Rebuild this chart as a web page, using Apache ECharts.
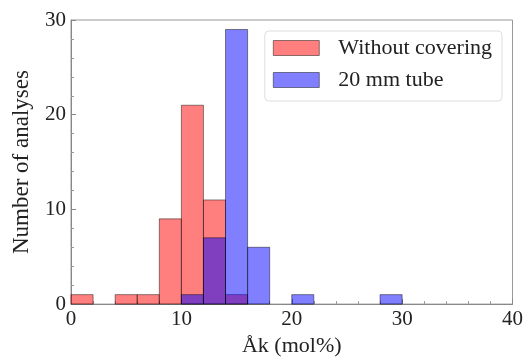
<!DOCTYPE html>
<html><head><meta charset="utf-8">
<script src="https://cdn.jsdelivr.net/npm/echarts@6/dist/echarts.min.js"></script>
<style>html,body{margin:0;padding:0;background:#fff}#c{width:526px;height:362px}</style>
</head><body><div id="c"></div>
<script>
const binWidth = 2;
const redBinStarts = [0, 4, 6, 8, 10, 12, 14];
const redCounts    = [1, 1, 1, 9, 21, 11, 1];
const blueBinStarts = [10, 12, 14, 16, 20, 28];
const blueCounts    = [1, 7, 29, 6, 1, 1];
const xTicks = [0, 10, 20, 30, 40];
const yTicks = [0, 10, 20, 30];
const seriesNames = ['Without covering', '20 mm tube'];

const FONT = 'Liberation Serif';
const redFill = 'rgba(255,0,0,0.5)';
const blueFill = 'rgba(0,0,255,0.5)';
const edge = 'rgba(0,0,0,0.45)';

function mk(starts, counts){ return starts.map((s,i)=>[s, s+binWidth, counts[i]]); }
function renderBar(params, api){
  const p0 = api.coord([api.value(0), api.value(2)]);
  const p1 = api.coord([api.value(1), 0]);
  return {type:'rect', shape:{x:p0[0], y:p0[1], width:p1[0]-p0[0], height:p1[1]-p0[1]},
    style: api.style()};
}
const axisCommon = {
  axisLine:{show:true, lineStyle:{color:'#888', width:1}},
  axisTick:{show:true, inside:true, length:5, lineStyle:{color:'#888'}},
  minorTick:{show:true, splitNumber:5, length:3, lineStyle:{color:'#999'}},
  splitLine:{show:false},
  axisLabel:{fontFamily:FONT, fontSize:21, color:'#222', margin:5},
  nameTextStyle:{fontFamily:FONT, fontSize:22, color:'#222'}
};
const chart = echarts.init(document.getElementById('c'));
chart.setOption({
  animation:false,
  grid:{left:71, right:13, top:20, bottom:52, show:true, borderColor:'#999', borderWidth:1},
  legend:{
    right:24, top:31, orient:'vertical', itemWidth:46, itemHeight:15, itemGap:10,
    padding:[6,10,10,8], borderColor:'#ddd', borderWidth:1, borderRadius:4,
    textStyle:{fontFamily:FONT, fontSize:22, color:'#222', padding:[0,0,0,14]},
    data:[
      {name:seriesNames[0], icon:'rect', itemStyle:{color:redFill, borderColor:edge, borderWidth:1}},
      {name:seriesNames[1], icon:'rect', itemStyle:{color:blueFill, borderColor:edge, borderWidth:1}}
    ]
  },
  xAxis:Object.assign({}, axisCommon, {type:'value', min:xTicks[0], max:xTicks[xTicks.length-1], interval:10,
    name:'Åk (mol%)', nameLocation:'middle', nameGap:28}),
  yAxis:Object.assign({}, axisCommon, {type:'value', min:yTicks[0], max:yTicks[yTicks.length-1], interval:10,
    name:'Number of analyses', nameLocation:'middle', nameGap:38,
    nameTextStyle:{fontFamily:FONT, fontSize:23, color:'#222'}}),
  series:[
    {name:seriesNames[0], type:'custom', renderItem:renderBar, data:mk(redBinStarts, redCounts),
      encode:{x:[0,1], y:2}, itemStyle:{color:redFill, borderColor:edge, borderWidth:1}},
    {name:seriesNames[1], type:'custom', renderItem:renderBar, data:mk(blueBinStarts, blueCounts),
      encode:{x:[0,1], y:2}, itemStyle:{color:blueFill, borderColor:edge, borderWidth:1}}
  ]
});
</script></body></html>
